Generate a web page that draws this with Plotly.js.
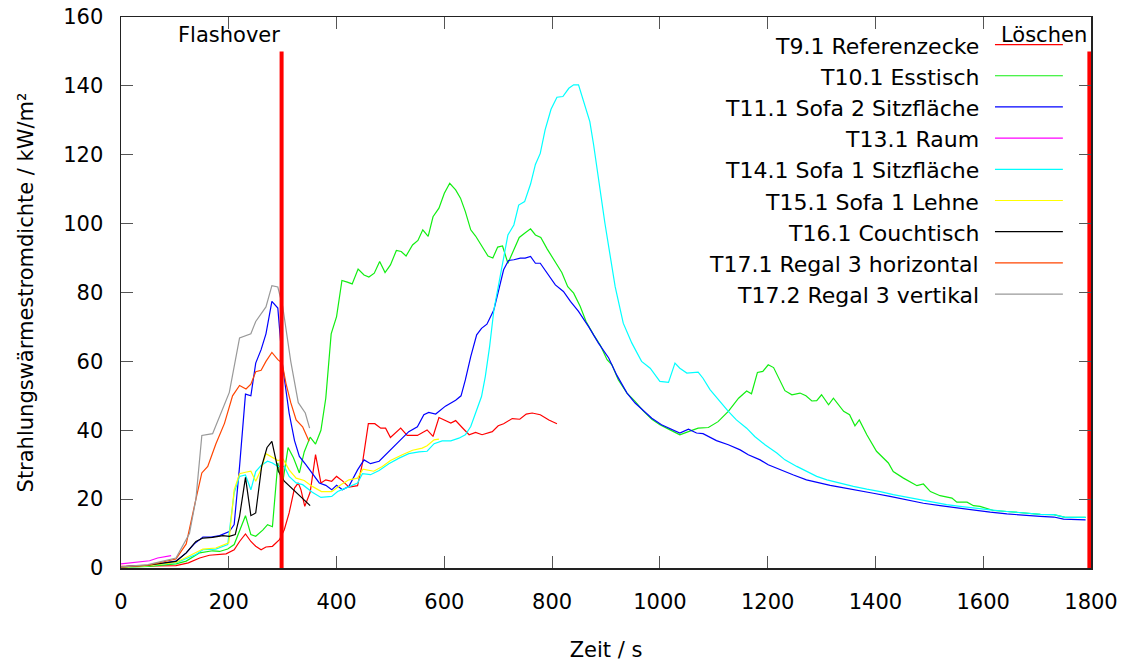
<!DOCTYPE html>
<html>
<head>
<meta charset="utf-8">
<script src="https://cdn.plot.ly/plotly-3.0.1.min.js"></script>
<style>html,body{margin:0;padding:0;background:#fff;}#chart{width:1127px;height:664px;}</style>
</head>
<body>
<div id="chart"></div>
<script>
// ---- Data ----
const seriesNames = [
  "T9.1 Referenzecke", "T10.1 Esstisch", "T11.1 Sofa 2 Sitzfläche", "T13.1 Raum",
  "T14.1 Sofa 1 Sitzfläche", "T15.1 Sofa 1 Lehne", "T16.1 Couchtisch",
  "T17.1 Regal 3 horizontal", "T17.2 Regal 3 vertikal"
];
const seriesColors = ["#ff0000", "#11ee11", "#0000ff", "#ff00ff", "#00ffff", "#ffff00", "#000000", "#ff4500", "#999999"];

const t_T9_1 = [0,30,60,102,125,146,164,195,210,220,231,241,250,260,269,281,294,303,312,322,329,334,341,351,361,371,380,391,400,411,423,439,448,459,471,482,491,500,519,531,550,568,579,590,612,621,633,646,658,670,689,700,710,726,740,752,763,778,794,809];
const v_T9_1 = [0.5,0.5,0.6,0.7,1.5,2.9,3.7,4.1,5.3,7.7,9.9,7.7,6.3,5.3,6.1,6.3,8.2,11.1,16,23.2,24.7,22.7,17.9,22,32.9,24.7,25.6,25.2,26.6,25.3,23.5,23.9,30.4,41.9,41.9,40.6,40.6,37.9,40.6,38.5,38.5,40.1,38.2,43.7,42.1,42.8,40.8,38.7,39.4,38.7,39.6,41.3,41.9,43.4,43.2,44.7,45,44.5,43,41.9];

const t_T10_1 = [0,50,102,121,146,170,183,198,210,220,231,241,250,263,272,281,291,299,310,320,331,340,351,361,371,380,390,400,410,420,429,440,451,460,470,480,490,500,511,520,529,541,551,560,570,579,590,600,610,621,630,639,649,658,670,681,690,699,708,718,729,739,749,760,769,779,791,806,818,829,840,852,863,877,889,902,911,923,939,954,970,985,1000,1019,1037,1053,1071,1090,1108,1127,1146,1161,1170,1181,1191,1201,1211,1232,1245,1260,1271,1282,1291,1300,1313,1322,1341,1352,1362,1370,1384,1402,1424,1433,1452,1477,1489,1502,1520,1542,1551,1570,1582,1594,1619,1644,1675,1706,1731,1752,1790];
const v_T10_1 = [0.2,0.5,1.2,2,4.4,5,4.8,5.5,6.8,11,15.2,9.7,9.2,11,12.6,12,30.5,23.7,35,32,27.6,33.7,38,36,40,49.3,68,73,83.5,83,82.5,86.8,85.1,84.5,85.6,89,85.8,88,92.2,91.9,90.6,93.8,95.1,98.2,96.3,102,104.5,108.8,111.7,109.8,107.4,103.5,98.2,96.4,93.3,90.6,90,93.2,93.5,88.5,92.4,96,97.2,98.5,96.7,96,92.6,89,85.8,81.7,79.8,76,71.6,67.7,64.8,60.5,59,54.6,50.8,48.4,45.5,43.2,41.6,40.1,38.7,39.6,40.6,40.8,42.5,45.5,49.3,51.4,50.6,56.8,57.1,59,58.2,51.5,50.3,50.8,50,48.5,48.6,50.3,47.4,49.3,45.5,44.5,41.3,43,38.7,33.9,30.5,28,26.1,23.9,24.4,22.2,21,20.3,19.1,19.1,18.1,17.9,16.7,16.4,15.9,15.6,15.5,14.7,14.7];

const t_T11_1 = [0,50,102,121,136,152,167,183,201,210,220,231,241,250,260,269,280,291,300,312,322,331,343,355,368,380,391,400,411,423,439,451,463,479,494,516,534,550,562,571,584,602,621,631,639,649,660,669,679,692,701,710,719,729,741,750,760,769,778,791,806,821,834,849,868,886,905,920,939,954,970,985,1003,1019,1037,1053,1068,1080,1105,1127,1149,1164,1186,1201,1223,1248,1272,1297,1316,1334,1365,1396,1427,1458,1489,1520,1551,1582,1613,1644,1675,1706,1731,1749,1790];
const v_T11_1 = [0.3,0.8,2,4.4,7,9,9,9.4,10.6,12.6,29.5,50.5,50,59.5,63.4,68,77.4,75.5,58.5,45,37,32.4,30,27.6,24.7,24,22.7,24,22.7,23.7,28.5,31.4,30.3,31,33.4,36.8,39.6,41,44.5,45.2,44.7,47,48.7,50,54.6,61.4,67.7,69.6,70.8,75,80.8,86.6,89.3,89.5,90,90,90.5,88.5,88.5,85.6,82.2,80.3,77.4,74.5,70,65.3,61,56,50.8,47.9,45.5,43.5,41.6,40.4,39.2,40.3,39.2,39,37,35.8,34.3,32.9,31.4,30,28.5,27,25.6,24.6,24,23.5,22.7,21.7,20.8,19.8,18.8,18.1,17.4,16.7,16.2,15.7,15.3,15,14.8,14.2,14];

const t_T13_1 = [0,22,41,53,68,84,93];
const v_T13_1 = [1.2,1.5,1.9,2.1,2.9,3.4,3.6];

const t_T14_1 = [0,50,102,139,152,176,198,210,220,231,241,250,260,272,281,291,303,312,325,337,355,371,391,402,417,439,448,463,479,497,516,534,553,568,581,596,612,627,639,649,658,669,676,684,692,701,710,718,729,738,749,760,769,778,787,798,809,820,831,840,849,860,870,877,886,898,917,932,948,966,982,1000,1016,1028,1037,1050,1071,1080,1093,1108,1127,1142,1161,1176,1195,1217,1232,1254,1272,1291,1310,1334,1359,1384,1409,1433,1458,1483,1508,1532,1557,1582,1613,1644,1675,1706,1731,1752,1790];
const v_T14_1 = [0.2,0.7,1.5,3.9,5.3,5.5,6.8,21.8,26.6,27,22.7,28,29.8,31,30.5,29.5,29.5,26.6,24.7,24.2,22,20.5,20.8,22.2,23.2,24.7,27.4,27.1,28.3,30.3,31.9,33.2,33.7,33.9,36.1,36.9,36.9,37.7,38.7,41.1,45,49.8,55.6,64.3,75,82.7,90.4,96.7,99.6,105.4,106.4,111.5,117.2,120.4,127.2,133.2,136.7,136.9,139.3,140.3,140.3,134.5,129.6,122.9,112.7,100.1,81.7,71.1,65.3,60,58,54.2,53.9,59.5,58,56.6,56.9,55.1,51.8,48.9,45.5,43,40.6,38.2,35.8,33.4,31.4,29.5,28,26.6,25.6,24.6,23.7,22.9,22.2,21.3,20.6,19.8,19,18.4,17.9,17.4,16.9,16.4,15.9,15.6,15.5,14.7,14.7];

const t_T15_1 = [0,50,102,139,152,176,200,210,220,231,241,250,260,269,281,291,301,312,325,340,355,372,391,408,423,439,449,469,485,500,522,541,559,568,581,590];
const v_T15_1 = [0.2,0.7,1.6,4.5,5.5,5.8,7.3,22.7,27.4,27.8,28.1,25.2,28.7,33.2,32.2,31.2,31.6,28.5,26.1,25.4,23.7,22.2,22.2,24.2,25.6,26.1,28.7,28.1,29.5,31.2,32.9,34.2,34.8,35.5,37.2,37.4];

const t_T16_1 = [0,50,102,121,139,152,170,189,201,212,220,231,241,250,261,271,280,292,303,312,325,337,351];
const v_T16_1 = [0.3,0.8,1.9,4.4,7.7,8.7,8.9,9.4,9.2,9.7,15,26.3,15.2,16,29.5,35,36.8,28.1,25.2,23.9,21.8,20.3,18.1];

const t_T17_1 = [0,50,102,121,139,150,161,176,192,207,220,232,241,250,260,269,280,291,299,306,315,325,337,349];
const v_T17_1 = [0.3,0.8,2.6,7,20,27.6,29.5,36,42,50,53,52,53.4,57,57.4,60,62.6,60.5,59.5,53.7,48,43,41,36.8];

const t_T17_2 = [0,50,102,127,139,150,170,201,220,241,250,269,280,291,300,315,329,342,350];
const v_T17_2 = [0.3,1,2.9,10,20,38.5,39,51,66.8,68,71.6,75.8,82,81.6,76,60,48,45,40.6];

const eventTimes = [298, 1797];
const eventLabels = ["Flashover", "Löschen"];
const eventTop = 150;

const xTickVals = [0,200,400,600,800,1000,1200,1400,1600,1800];
const yTickVals = [0,20,40,60,80,100,120,140,160];

// ---- Build traces ----
const seriesT = [t_T9_1, t_T10_1, t_T11_1, t_T13_1, t_T14_1, t_T15_1, t_T16_1, t_T17_1, t_T17_2];
const seriesV = [v_T9_1, v_T10_1, v_T11_1, v_T13_1, v_T14_1, v_T15_1, v_T16_1, v_T17_1, v_T17_2];

const traces = [];
for (let i = 0; i < seriesNames.length; i++) {
  traces.push({
    type: 'scatter', mode: 'lines', name: seriesNames[i],
    x: seriesT[i], y: seriesV[i],
    line: {color: seriesColors[i], width: 1.2},
    showlegend: false, hoverinfo: 'skip'
  });
}
for (let i = 0; i < eventTimes.length; i++) {
  traces.push({
    type: 'scatter', mode: 'lines', name: eventLabels[i],
    x: [eventTimes[i], eventTimes[i]], y: [0, eventTop],
    line: {color: '#ff0000', width: 4},
    showlegend: false, hoverinfo: 'skip'
  });
}

const FONT = "DejaVu Sans, sans-serif";
const annotations = [];
const shapes = [];
for (let i = 0; i < eventTimes.length; i++) {
  annotations.push({
    x: eventTimes[i], y: 154.8, xref: 'x', yref: 'y',
    text: eventLabels[i], showarrow: false,
    xanchor: 'right', yanchor: 'middle',
    font: {family: FONT, size: 21, color: '#000'}
  });
}
// gnuplot-style legend: text right-aligned, sample line to the right
const legTextX = 0.8866, legLineX0 = 0.901, legLineX1 = 0.971;
const legY0 = 0.947, legDy = 0.0566;
for (let i = 0; i < seriesNames.length; i++) {
  const y = legY0 - i * legDy;
  annotations.push({
    x: legTextX, y: y, xref: 'paper', yref: 'paper',
    text: seriesNames[i], showarrow: false,
    xanchor: 'right', yanchor: 'middle',
    font: {family: FONT, size: 22, color: '#000'}
  });
  shapes.push({
    type: 'line', xref: 'paper', yref: 'paper',
    x0: legLineX0, x1: legLineX1, y0: y + 0.003, y1: y + 0.003,
    line: {color: seriesColors[i], width: 1.2}
  });
}

const layout = {
  width: 1127, height: 664,
  margin: {l: 121, r: 36, t: 17, b: 96},
  paper_bgcolor: '#fff', plot_bgcolor: '#fff',
  font: {family: FONT, size: 21, color: '#000'},
  showlegend: false,
  xaxis: {
    range: [0, 1800], tickvals: xTickVals, ticks: 'inside', ticklen: 12,
    tickcolor: '#555', tickwidth: 1, showline: true, linecolor: '#222', linewidth: 1.5,
    mirror: 'ticks', showgrid: false, zeroline: false,
    ticklabelstandoff: 14,
    title: {text: 'Zeit / s', standoff: 29, font: {family: FONT, size: 21}}
  },
  yaxis: {
    range: [0, 160], tickvals: yTickVals, ticks: 'inside', ticklen: 12,
    tickcolor: '#555', tickwidth: 1, showline: true, linecolor: '#222', linewidth: 1.5,
    mirror: 'ticks', showgrid: false, zeroline: false,
    ticklabelstandoff: 12,
    title: {text: 'Strahlungswärmestromdichte / kW/m²', standoff: 24, font: {family: FONT, size: 21}}
  },
  annotations: annotations,
  shapes: shapes
};

Plotly.newPlot('chart', traces, layout, {displayModeBar: false, staticPlot: true});
</script>
</body>
</html>
